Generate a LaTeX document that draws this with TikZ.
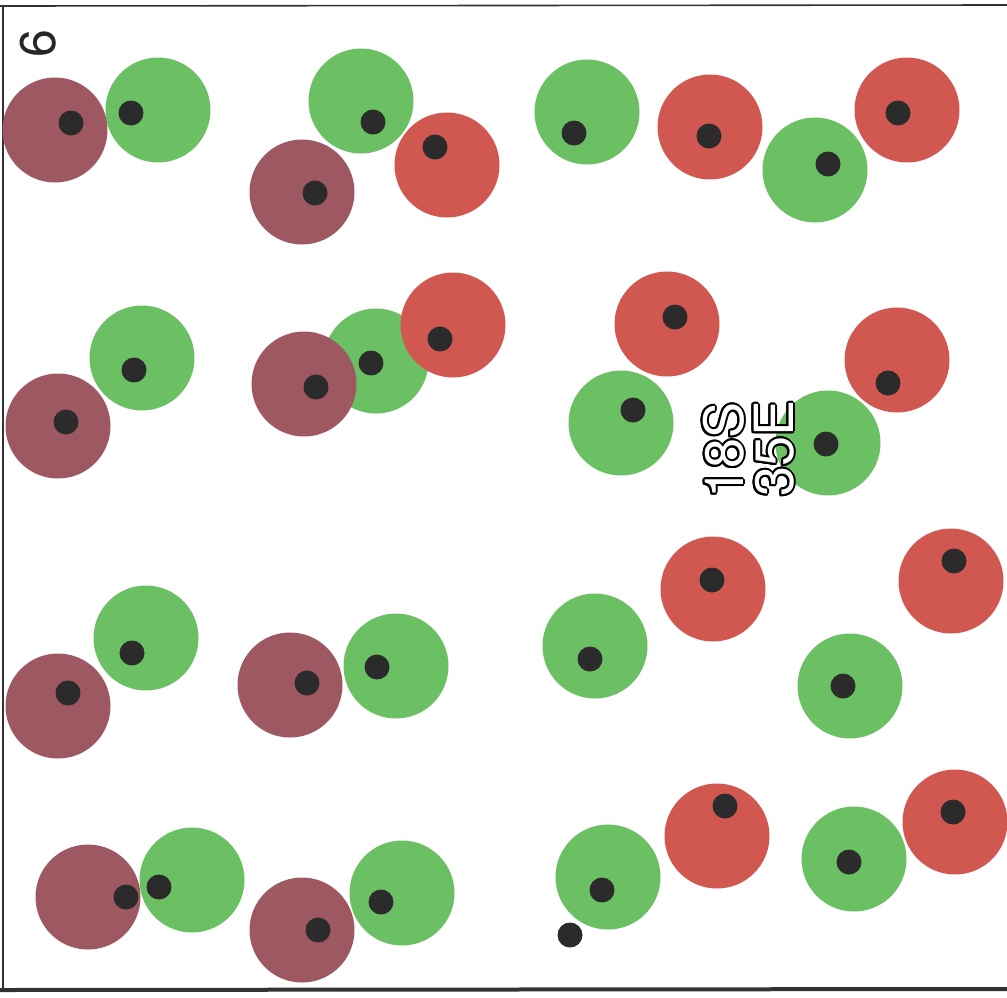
\documentclass[tikz,border=0pt]{standalone}
\usepackage{fontspec}
\newfontfamily\heros{TeX Gyre Heros}
\definecolor{cgreen}{RGB}{108,192,100}
\definecolor{cmaroon}{RGB}{158,88,98}
\definecolor{cred}{RGB}{208,88,80}
\definecolor{cdot}{RGB}{43,43,43}
\definecolor{cframe}{RGB}{50,50,50}
\begin{document}
\begin{tikzpicture}[x=1pt,y=-1pt,
  cell/.style={circle,inner sep=0pt,minimum size=105pt,draw=none},
  gcell/.style={cell,fill=cgreen},
  mcell/.style={cell,fill=cmaroon},
  rcell/.style={cell,fill=cred},
  nucleus/.style={circle,inner sep=0pt,minimum size=25pt,fill=cdot},
  lbl/.style={inner sep=0pt,rotate=90,anchor=base west,font=\heros\fontsize{54}{54}\selectfont},
  frameline/.style={draw=cframe}]
\useasboundingbox (0,0) rectangle (1007,997);
\fill[white] (0,0) rectangle (1007,997);
% frame
\coordinate (tl) at (0,6);
\coordinate (tr) at (1007,5);
\coordinate (lt) at (3,6);
\coordinate (lb) at (3,990);
\coordinate (bl) at (0,990);
\coordinate (br) at (1007,989);
\draw[frameline,line width=1.6pt] (tl) -- (tr);
\draw[frameline,line width=1.8pt] (lt) -- (lb);
\draw[frameline,line width=4pt] (bl) -- (br);
% green cells
\node[gcell] (g1) at (158,110) {};
\node[gcell] (g2) at (361,101) {};
\node[gcell] (g3) at (587,112) {};
\node[gcell] (g4) at (815,170) {};
\node[gcell] (g5) at (142,358) {};
\node[gcell] (g6) at (376,361) {};
\node[gcell] (g7) at (621,423) {};
\node[gcell] (g8) at (828,443) {};
\node[gcell] (g9) at (146,638) {};
\node[gcell] (g10) at (396,666) {};
\node[gcell] (g11) at (595,646) {};
\node[gcell] (g12) at (850,686) {};
\node[gcell] (g13) at (192,880) {};
\node[gcell] (g14) at (402,893) {};
\node[gcell] (g15) at (608,877) {};
\node[gcell] (g16) at (854,859) {};
% maroon cells
\node[mcell] (m1) at (55,130) {};
\node[mcell] (m2) at (302,192) {};
\node[mcell] (m3) at (58,426) {};
\node[mcell] (m4) at (304,384) {};
\node[mcell] (m5) at (58,706) {};
\node[mcell] (m6) at (290,685) {};
\node[mcell] (m7) at (88,897) {};
\node[mcell] (m8) at (302,930) {};
% red cells
\node[rcell] (r1) at (447,165) {};
\node[rcell] (r2) at (710,127) {};
\node[rcell] (r3) at (907,110) {};
\node[rcell] (r4) at (453,325) {};
\node[rcell] (r5) at (667,324) {};
\node[rcell] (r6) at (897,360) {};
\node[rcell] (r7) at (713,589) {};
\node[rcell] (r8) at (951,581) {};
\node[rcell] (r9) at (717,836) {};
\node[rcell] (r10) at (955,822) {};
% nuclei
\node[nucleus] (n1) at (131,113) {};
\node[nucleus] (n2) at (373,122) {};
\node[nucleus] (n3) at (574,133) {};
\node[nucleus] (n4) at (828,164) {};
\node[nucleus] (n5) at (134,370) {};
\node[nucleus] (n6) at (371,363) {};
\node[nucleus] (n7) at (633,410) {};
\node[nucleus] (n8) at (826,444) {};
\node[nucleus] (n9) at (132,653) {};
\node[nucleus] (n10) at (377,667) {};
\node[nucleus] (n11) at (590,659) {};
\node[nucleus] (n12) at (843,686) {};
\node[nucleus] (n13) at (159,887) {};
\node[nucleus] (n14) at (381,902) {};
\node[nucleus] (n15) at (602,890) {};
\node[nucleus] (n16) at (849,862) {};
\node[nucleus] (n17) at (71,123) {};
\node[nucleus] (n18) at (315,193) {};
\node[nucleus] (n19) at (66,422) {};
\node[nucleus] (n20) at (316,387) {};
\node[nucleus] (n21) at (68,693) {};
\node[nucleus] (n22) at (307,683) {};
\node[nucleus] (n23) at (126,897) {};
\node[nucleus] (n24) at (318,930) {};
\node[nucleus] (n25) at (435,147) {};
\node[nucleus] (n26) at (709,136) {};
\node[nucleus] (n27) at (898,113) {};
\node[nucleus] (n28) at (440,339) {};
\node[nucleus] (n29) at (675,317) {};
\node[nucleus] (n30) at (888,383) {};
\node[nucleus] (n31) at (712,580) {};
\node[nucleus] (n32) at (954,561) {};
\node[nucleus] (n33) at (725,806) {};
\node[nucleus] (n34) at (953,812) {};
\node[nucleus] (n35) at (570,935) {};
% outlined labels
\foreach \a [count=\i] in {0,22.5,...,337.5} {
  \node[lbl,text=black] (oa\i) at ([shift={(\a:2pt)}]743,499) {18S};
  \node[lbl,text=black] (ob\i) at ([shift={(\a:2pt)}]793,497) {35E};
}
\node[lbl,text=white] (la) at (743,499) {18S};
\node[lbl,text=white] (lb2) at (793,497) {35E};
% page number
\node[lbl,text=black!85,font=\heros\fontsize{50}{50}\selectfont] (pg) at (55,58) {6};
\end{tikzpicture}
\end{document}
